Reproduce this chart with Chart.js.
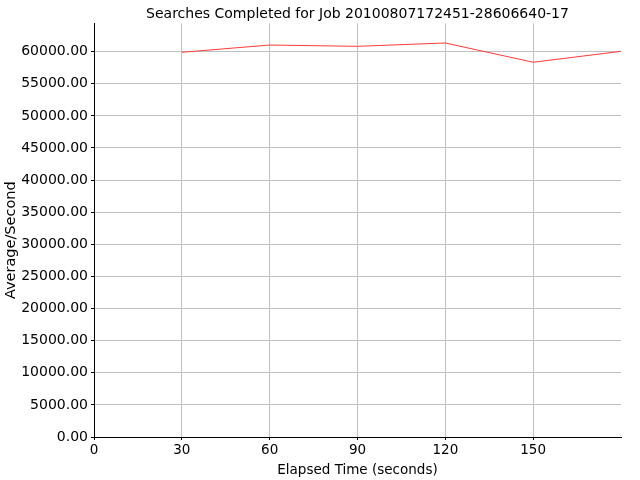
<!DOCTYPE html>
<html>
<head>
<meta charset="utf-8">
<title>Searches Completed</title>
<script src="https://cdn.jsdelivr.net/npm/chart.js@4/dist/chart.umd.min.js"></script>
<style>
  html, body { margin: 0; padding: 0; background: #fff; }
  #wrap { width: 640px; height: 480px; }
</style>
</head>
<body>
<div id="wrap"><canvas id="chart" width="640" height="480"></canvas></div>
<script>
// data
const elapsedSecs = [30, 60, 90, 120, 150, 180];
const searchesPerSec = [59900, 61030, 60830, 61350, 58350, 60050];
const yTicks = [0, 5000, 10000, 15000, 20000, 25000, 30000, 35000, 40000, 45000, 50000, 55000, 60000];
const xTicks = [0, 30, 60, 90, 120, 150];
const yTitle = 'Average/Second';

const FONT = 'DejaVu Sans';

// the y title sits a little below the middle of the plot in the original
const yTitlePlugin = {
    id: 'yTitle',
    afterDraw(chart) {
        const c = chart.ctx;
        const area = chart.chartArea;
        c.save();
        c.translate(11, (area.top + area.bottom) / 2 + 10);
        c.rotate(-Math.PI / 2);
        c.fillStyle = '#000';
        c.font = '14.5px "' + FONT + '"';
        c.textAlign = 'center';
        c.textBaseline = 'middle';
        c.fillText(yTitle, 0, 0);
        c.restore();
    }
};

const ctx = document.getElementById('chart').getContext('2d');

new Chart(ctx, {
    type: 'line',
    data: {
        datasets: [{
            label: 'Searches Completed',
            data: elapsedSecs.map((x, i) => ({ x: x, y: searchesPerSec[i] })),
            borderColor: '#ff3b3b',
            borderWidth: 1,
            pointRadius: 0,
            tension: 0,
            fill: false
        }]
    },
    plugins: [yTitlePlugin],
    options: {
        responsive: false,
        devicePixelRatio: 1,
        animation: false,
        layout: { padding: { left: 0, right: 19, top: 0, bottom: 0 } },
        plugins: {
            legend: { display: false },
            tooltip: { enabled: false },
            title: {
                display: true,
                fullSize: false, // center over the plot, not the canvas
                text: 'Searches Completed for Job 20100807172451-28606640-17',
                color: '#000',
                font: { family: FONT, size: 14, weight: 'normal', lineHeight: 1.1 },
                padding: { top: 7, bottom: 1 }
            }
        },
        scales: {
            x: {
                type: 'linear',
                min: 0,
                max: 180,
                afterBuildTicks: s => { s.ticks = xTicks.map(v => ({ value: v })); },
                afterFit: s => { s.height = 43; },
                ticks: {
                    color: '#000',
                    font: { family: FONT, size: 13.5 },
                    padding: 2,
                    maxRotation: 0,
                    callback: v => String(v)
                },
                grid: { color: '#c0c0c0', lineWidth: 1, tickLength: 3, tickColor: '#000' },
                border: { display: true, color: '#000', width: 1 },
                title: {
                    display: true,
                    text: 'Elapsed Time (seconds)',
                    color: '#000',
                    font: { family: FONT, size: 13.5 },
                    padding: { top: 0, bottom: 1 }
                }
            },
            y: {
                type: 'linear',
                min: 0,
                max: 64400,
                afterBuildTicks: s => { s.ticks = yTicks.map(v => ({ value: v })); },
                afterFit: s => { s.width = 94; },
                ticks: {
                    color: '#000',
                    font: { family: FONT, size: 14 },
                    padding: 3,
                    callback: v => v.toFixed(2)
                },
                grid: { color: '#c0c0c0', lineWidth: 1, tickLength: 3, tickColor: '#000' },
                border: { display: true, color: '#000', width: 1 }
            }
        }
    }
});
</script>
</body>
</html>
